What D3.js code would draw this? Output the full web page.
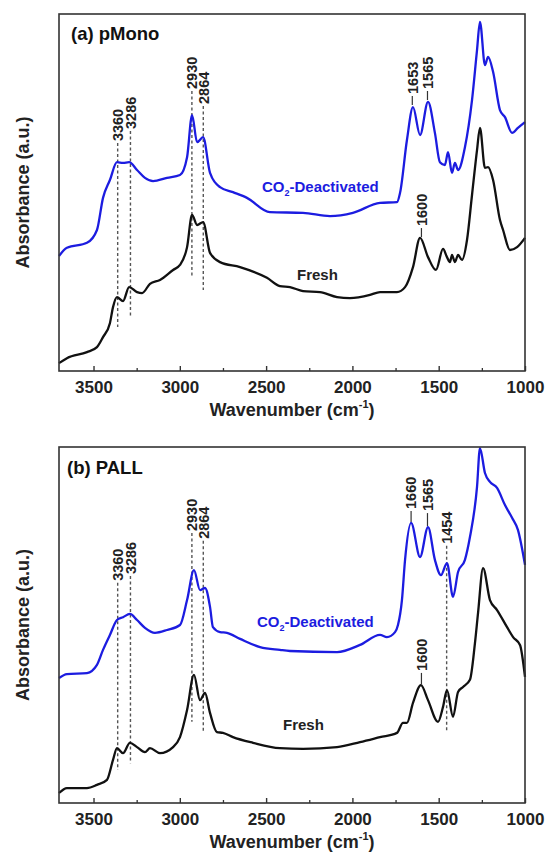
<!DOCTYPE html>
<html>
<head>
<meta charset="utf-8">
<script src="https://cdn.jsdelivr.net/npm/d3@7"></script>
<style>
  html, body { margin: 0; padding: 0; background: #fff; }
  svg { display: block; }
  text { font-family: "Liberation Sans", Arial, Helvetica, sans-serif; font-weight: bold; }
</style>
</head>
<body>
<svg id="chart" width="547" height="855"></svg>
<script>
// ---------- DATA ----------
const majorTicks = [3500, 3000, 2500, 2000, 1500, 1000];
const minorTicks = [3250, 2750, 2250, 1750, 1250];
const panelTitles = ["(a) pMono", "(b) PALL"];

// (a) pMono, CO2-Deactivated : [wavenumber, absorbance a.u.]
const pMonoDeactivated = [
  [3700,0.322],[3654,0.345],[3538,0.359],[3480,0.395],[3445,0.485],[3405,0.535],
  [3364,0.585],[3329,0.583],[3294,0.585],[3248,0.563],[3202,0.541],[3155,0.532],
  [3074,0.541],[2999,0.549],[2958,0.599],[2929,0.717],[2900,0.641],[2865,0.655],
  [2825,0.555],[2767,0.515],[2692,0.501],[2611,0.485],[2478,0.445],[2286,0.443],
  [2130,0.434],[1997,0.443],[1840,0.471],[1742,0.473],[1724,0.499],[1684,0.647],
  [1649,0.739],[1608,0.661],[1562,0.754],[1522,0.667],[1493,0.585],[1464,0.577],
  [1446,0.613],[1423,0.555],[1406,0.583],[1388,0.563],[1348,0.627],[1307,0.759],
  [1278,0.899],[1261,0.978],[1232,0.857],[1214,0.880],[1185,0.838],[1145,0.731],
  [1116,0.711],[1075,0.667],[1041,0.681],[1000,0.697]
];
// (a) pMono, Fresh
const pMonoFresh = [
  [3700,0.022],[3654,0.036],[3538,0.053],[3480,0.067],[3445,0.095],[3405,0.134],
  [3387,0.179],[3364,0.207],[3329,0.196],[3294,0.235],[3248,0.221],[3219,0.218],
  [3173,0.244],[3115,0.255],[3039,0.283],[2999,0.297],[2958,0.347],[2929,0.437],
  [2900,0.409],[2865,0.417],[2825,0.331],[2767,0.305],[2651,0.291],[2495,0.261],
  [2420,0.238],[2362,0.235],[2286,0.224],[2188,0.221],[2089,0.207],[2014,0.204],
  [1898,0.213],[1840,0.221],[1742,0.221],[1695,0.235],[1649,0.291],[1608,0.373],
  [1562,0.319],[1516,0.283],[1475,0.342],[1452,0.319],[1435,0.305],[1423,0.325],
  [1406,0.305],[1388,0.325],[1365,0.311],[1336,0.367],[1307,0.493],[1278,0.619],
  [1261,0.681],[1232,0.569],[1214,0.571],[1185,0.535],[1145,0.423],[1127,0.395],
  [1087,0.339],[1046,0.347],[1000,0.373]
];
// (b) PALL, CO2-Deactivated
const pallDeactivated = [
  [3700,0.351],[3654,0.362],[3538,0.365],[3480,0.388],[3445,0.430],[3405,0.472],
  [3364,0.514],[3329,0.522],[3289,0.531],[3248,0.514],[3202,0.492],[3144,0.478],
  [3074,0.486],[2999,0.500],[2958,0.570],[2918,0.654],[2883,0.598],[2854,0.604],
  [2825,0.551],[2808,0.494],[2767,0.480],[2727,0.478],[2651,0.461],[2535,0.438],
  [2420,0.430],[2362,0.427],[2089,0.424],[1956,0.444],[1840,0.472],[1800,0.466],
  [1753,0.480],[1736,0.500],[1713,0.570],[1695,0.683],[1660,0.787],[1608,0.691],
  [1562,0.775],[1522,0.683],[1487,0.640],[1452,0.674],[1417,0.579],[1388,0.649],
  [1348,0.683],[1319,0.747],[1278,0.888],[1261,0.997],[1232,0.927],[1203,0.902],
  [1162,0.885],[1116,0.837],[1075,0.801],[1041,0.767],[1000,0.669]
];
// (b) PALL, Fresh
const pallFresh = [
  [3700,0.028],[3654,0.042],[3538,0.042],[3480,0.051],[3422,0.065],[3387,0.121],
  [3364,0.154],[3329,0.140],[3289,0.169],[3248,0.157],[3202,0.143],[3173,0.154],
  [3115,0.140],[3039,0.157],[2999,0.185],[2958,0.261],[2918,0.360],[2883,0.289],
  [2854,0.309],[2825,0.253],[2785,0.199],[2750,0.197],[2692,0.185],[2576,0.169],
  [2420,0.154],[2286,0.152],[2089,0.157],[1956,0.171],[1840,0.185],[1742,0.197],
  [1707,0.225],[1684,0.225],[1649,0.281],[1603,0.331],[1562,0.289],[1504,0.228],
  [1475,0.270],[1452,0.317],[1417,0.242],[1388,0.312],[1359,0.326],[1319,0.346],
  [1290,0.449],[1272,0.534],[1243,0.660],[1203,0.570],[1162,0.542],[1104,0.494],
  [1069,0.466],[1029,0.444],[1000,0.354]
];

// Peak annotations: label, wavenumber, label-foot absorbance, line-end absorbance, dashed?
const pMonoPeaks = [
  ["3360", 3360, 0.644, 0.123, true],
  ["3286", 3286, 0.678, 0.151, true],
  ["2930", 2930, 0.790, 0.263, true],
  ["2864", 2864, 0.748, 0.227, true],
  ["1653", 1653, 0.776, 0.745, false],
  ["1565", 1565, 0.790, 0.759, false],
  ["1600", 1600, 0.406, 0.375, false]
];
const pallPeaks = [
  ["3360", 3360, 0.624, 0.093, true],
  ["3286", 3286, 0.643, 0.112, true],
  ["2930", 2930, 0.764, 0.228, true],
  ["2864", 2864, 0.742, 0.199, true],
  ["1660", 1660, 0.826, 0.789, false],
  ["1565", 1565, 0.820, 0.778, false],
  ["1454", 1454, 0.728, 0.197, true],
  ["1600", 1600, 0.371, 0.334, false]
];
// Series label anchors: [wavenumber, absorbance]
const pMonoLabels = { deact: [2524, 0.501], fresh: [2321, 0.255] };
const pallLabels  = { deact: [2553, 0.494], fresh: [2402, 0.205] };

// ---------- DRAW ----------
const svg = d3.select("#chart");
const BLUE = "#1c1ce0", BLACK = "#111";

const panels = [
  { top: 14, bottom: 371, title: panelTitles[0], deact: pMonoDeactivated, fresh: pMonoFresh, peaks: pMonoPeaks, labels: pMonoLabels, titleY: 40, titleX: 71 },
  { top: 447, bottom: 803, title: panelTitles[1], deact: pallDeactivated, fresh: pallFresh, peaks: pallPeaks, labels: pallLabels, titleY: 474, titleX: 67 }
];
const left = 59, right = 525;

panels.forEach(p => {
  const x = d3.scaleLinear().domain([3700, 1000]).range([left, right]);
  const y = d3.scaleLinear().domain([0, 1]).range([p.bottom, p.top]);
  const g = svg.append("g");

  // peak leader lines (under curves)
  p.peaks.forEach(([lab, wn, yl, ye, dashed]) => {
    g.append("line")
      .attr("x1", x(wn)).attr("x2", x(wn))
      .attr("y1", y(yl) + 2).attr("y2", y(ye))
      .attr("stroke", dashed ? "#555" : "#333")
      .attr("stroke-width", dashed ? 1.4 : 1.2)
      .attr("stroke-dasharray", dashed ? "3,2.5" : null);
    g.append("text")
      .attr("transform", `translate(${x(wn)},${y(yl)}) rotate(-90)`)
      .attr("dy", "0.36em")
      .attr("font-size", 14.5)
      .attr("fill", "#222")
      .text(lab);
  });

  const line = d3.line()
    .x(d => x(d[0])).y(d => y(d[1]))
    .curve(d3.curveMonotoneX);

  g.append("path").datum(p.fresh)
    .attr("d", line).attr("fill", "none")
    .attr("stroke", BLACK).attr("stroke-width", 2.3).attr("stroke-linejoin", "round");
  g.append("path").datum(p.deact)
    .attr("d", line).attr("fill", "none")
    .attr("stroke", BLUE).attr("stroke-width", 2.3).attr("stroke-linejoin", "round");

  // frame
  g.append("rect")
    .attr("x", left).attr("y", p.top)
    .attr("width", right - left).attr("height", p.bottom - p.top)
    .attr("fill", "none").attr("stroke", "#333").attr("stroke-width", 1.6);

  // bottom axis, ticks inward
  const axis = d3.axisBottom(x).tickValues(majorTicks).tickSize(-5).tickFormat(d3.format("d"));
  const ag = g.append("g").attr("transform", `translate(0,${p.bottom})`).call(axis);
  ag.select(".domain").remove();
  ag.selectAll(".tick line").attr("stroke", "#333").attr("stroke-width", 1.4);
  ag.selectAll(".tick text")
    .attr("y", 10).attr("dy", "0.71em")
    .attr("font-size", 17).attr("fill", "#222")
    .style("font-family", '"Liberation Sans", Arial, sans-serif').style("font-weight", "bold");
  const minor = d3.axisBottom(x).tickValues(minorTicks).tickSize(-3).tickFormat("");
  const mg = g.append("g").attr("transform", `translate(0,${p.bottom})`).call(minor);
  mg.select(".domain").remove();
  mg.selectAll(".tick line").attr("stroke", "#333").attr("stroke-width", 1.3);

  // x title
  const xt = g.append("text")
    .attr("x", (left + right) / 2).attr("y", p.bottom + 45)
    .attr("text-anchor", "middle").attr("font-size", 18).attr("fill", "#222");
  xt.append("tspan").text("Wavenumber (cm");
  xt.append("tspan").attr("font-size", 11).attr("dy", -8).text("-1");
  xt.append("tspan").attr("dy", 8).text(")");

  // y title
  g.append("text")
    .attr("transform", `translate(29,${(p.top + p.bottom) / 2}) rotate(-90)`)
    .attr("text-anchor", "middle").attr("font-size", 18).attr("fill", "#222")
    .text("Absorbance (a.u.)");

  // panel title
  g.append("text").attr("x", p.titleX).attr("y", p.titleY)
    .attr("font-size", 18.5).attr("fill", "#111").text(p.title);

  // series labels
  const dl = g.append("text")
    .attr("x", x(p.labels.deact[0])).attr("y", y(p.labels.deact[1]))
    .attr("font-size", 15).attr("fill", BLUE);
  dl.append("tspan").text("CO");
  dl.append("tspan").attr("font-size", 9).attr("dy", 4).text("2");
  dl.append("tspan").attr("dy", -4).text("-Deactivated");
  g.append("text")
    .attr("x", x(p.labels.fresh[0])).attr("y", y(p.labels.fresh[1]))
    .attr("font-size", 15).attr("fill", "#222").text("Fresh");
});
</script>
</body>
</html>
